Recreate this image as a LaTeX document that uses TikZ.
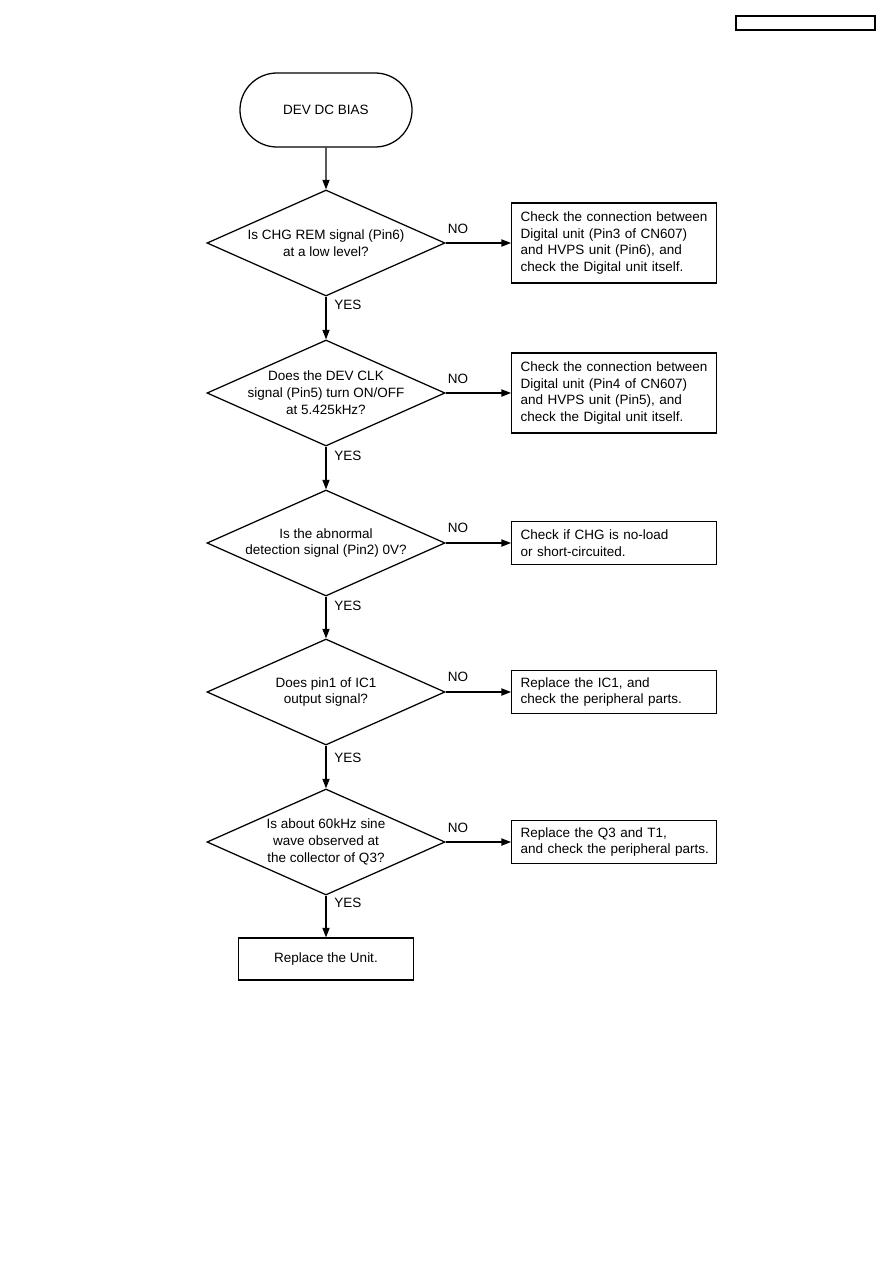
\documentclass[tikz,border=0pt]{standalone}
\usepackage{fontspec}
\setmainfont{Liberation Sans}
\usetikzlibrary{shapes.geometric,shapes.misc,arrows.meta}
\begin{document}
\begin{tikzpicture}[x=0.025cm,y=-0.025cm,
  font=\fontsize{9.6}{12}\selectfont,
  every node/.style={inner sep=0pt},
  ln/.style={line width=0.9pt},
  arr/.style={ln,-{Triangle[length=2.4mm,width=1.8mm]}},
  dia/.style={ln,draw,diamond,minimum width=5.95cm,minimum height=2.65cm},
  term/.style={ln,draw,rounded rectangle,minimum width=4.3cm,minimum height=1.85cm},
  bigbox/.style={ln,draw,rectangle,anchor=west,text width=4.675cm,inner xsep=0.225cm,align=left,minimum height=2.0cm},
  smallbox/.style={ln,draw,rectangle,anchor=west,text width=4.675cm,inner xsep=0.225cm,align=left,minimum height=1.075cm},
  endbox/.style={ln,draw,rectangle,minimum width=4.375cm,minimum height=1.05cm}
]
\useasboundingbox (0,0) rectangle (893,1263);
\node[draw,line width=0.9pt,minimum width=3.475cm,minimum height=0.35cm] (hdr) at (805.5,23) {};

\node[term] (start) at (326,110) {DEV DC BIAS};

\node[dia] (d1) at (326,243) {};
\node[align=center] (t1) at (d1) {Is CHG REM signal (Pin6)\\at a low level?};
\node[bigbox] (b1) at (511,243) {\mbox{Check the connection between}\\\mbox{Digital unit (Pin3 of CN607)}\\\mbox{and HVPS unit (Pin6), and}\\\mbox{check the Digital unit itself.}};

\node[dia] (d2) at (326,393) {};
\node[align=center] (t2) at (d2) {Does the DEV CLK\\signal (Pin5) turn ON/OFF\\at 5.425kHz?};
\node[bigbox] (b2) at (511,393) {\mbox{Check the connection between}\\\mbox{Digital unit (Pin4 of CN607)}\\\mbox{and HVPS unit (Pin5), and}\\\mbox{check the Digital unit itself.}};

\node[dia] (d3) at (326,543) {};
\node[align=center] (t3) at (d3) {Is the abnormal\\detection signal (Pin2) 0V?};
\node[smallbox] (b3) at (511,543) {\mbox{Check if CHG is no-load}\\\mbox{or short-circuited.}};

\node[dia] (d4) at (326,692) {};
\node[align=center] (t4) at (d4) {Does pin1 of IC1\\output signal?};
\node[smallbox] (b4) at (511,692) {\mbox{Replace the IC1, and}\\\mbox{check the peripheral parts.}};

\node[dia] (d5) at (326,842) {};
\node[align=center] (t5) at (d5) {Is about 60kHz sine\\wave observed at\\the collector of Q3?};
\node[smallbox] (b5) at (511,842) {\mbox{Replace the Q3 and T1,}\\\mbox{and check the peripheral parts.}};

\node[endbox] (e) at (326,959) {Replace the Unit.};

\draw[arr] (start) -- (d1);
\draw[arr] (d1) -- (d2);
\draw[arr] (d2) -- (d3);
\draw[arr] (d3) -- (d4);
\draw[arr] (d4) -- (d5);
\draw[arr] (d5) -- (e);

\draw[arr] (d1.east) -- (b1.west);
\draw[arr] (d2.east) -- (b2.west);
\draw[arr] (d3.east) -- (b3.west);
\draw[arr] (d4.east) -- (b4.west);
\draw[arr] (d5.east) -- (b5.west);

\node (n1) at (458,229) {NO};
\node (n2) at (458,379) {NO};
\node (n3) at (458,528) {NO};
\node (n4) at (458,677) {NO};
\node (n5) at (458,828) {NO};

\node[anchor=west] (y1) at (334,305) {YES};
\node[anchor=west] (y2) at (334,456) {YES};
\node[anchor=west] (y3) at (334,606) {YES};
\node[anchor=west] (y4) at (334,758) {YES};
\node[anchor=west] (y5) at (334,903) {YES};
\end{tikzpicture}
\end{document}
